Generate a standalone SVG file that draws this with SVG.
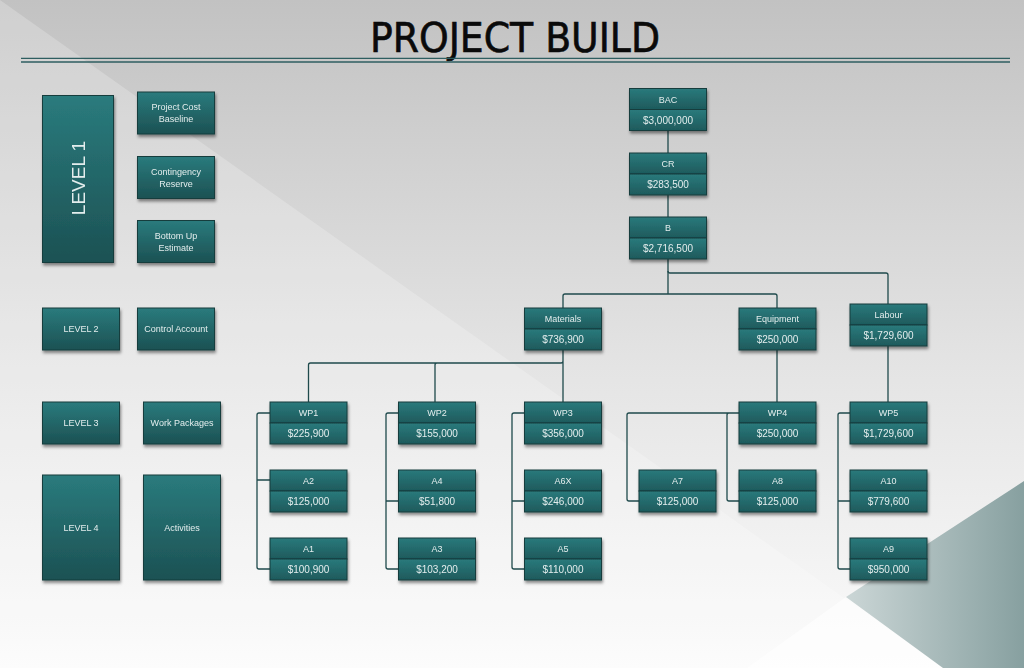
<svg xmlns="http://www.w3.org/2000/svg" width="1024" height="668" viewBox="0 0 1024 668">
<defs>
<linearGradient id="bg" x1="0" y1="0" x2="0" y2="1">
<stop offset="0" stop-color="#c2c2c2"/>
<stop offset="0.55" stop-color="#e4e4e4"/>
<stop offset="1" stop-color="#fbfbfb"/>
</linearGradient>
<linearGradient id="tri" x1="0" y1="0" x2="1" y2="0">
<stop offset="0" stop-color="#cbd6d6"/>
<stop offset="1" stop-color="#87a0a0"/>
</linearGradient>
<linearGradient id="half" x1="0" y1="0" x2="0" y2="1">
<stop offset="0" stop-color="#2a7a7c"/>
<stop offset="1" stop-color="#1e5a5c"/>
</linearGradient>
<linearGradient id="tall" x1="0" y1="0" x2="0" y2="1">
<stop offset="0" stop-color="#2a7b7d"/>
<stop offset="1" stop-color="#1c5153"/>
</linearGradient>
<filter id="sh" x="-10%" y="-10%" width="130%" height="140%">
<feDropShadow dx="1" dy="2.5" stdDeviation="1.6" flood-color="#000" flood-opacity="0.45"/>
</filter>
</defs>
<style>
.box{fill:url(#half);stroke:#163c3d;stroke-width:1}
.tbox{fill:url(#tall);stroke:#163c3d;stroke-width:1}
.t{font-family:"Liberation Sans",Arial,sans-serif;font-size:9px;fill:#e3eded;text-anchor:middle}
.v{font-family:"Liberation Sans",Arial,sans-serif;font-size:10px;fill:#e3eded;text-anchor:middle}
.big{font-family:"Liberation Sans",Arial,sans-serif;font-size:19px;fill:#e3eded;text-anchor:middle}
.c{fill:none;stroke:#1f4a4c;stroke-width:1.3;stroke-linejoin:round}
.sh{filter:url(#sh)}
</style>
<rect x="0" y="0" width="1024" height="668" fill="url(#bg)"/>
<polygon points="0,0 943,668 0,668" fill="#ffffff" opacity="0.22"/>
<polygon points="747,668 846,597 943,668" fill="#ffffff" opacity="0.6"/>
<polygon points="1024,481 846,597 943,668 1024,668" fill="url(#tri)"/>
<text x="515" y="52" font-family="DejaVu Sans Condensed, DejaVu Sans, sans-serif" font-stretch="condensed" font-size="41" fill="#0a0a0a" stroke="#0a0a0a" stroke-width="0.6" text-anchor="middle" textLength="290" lengthAdjust="spacingAndGlyphs">PROJECT BUILD</text>
<line x1="21" y1="58.3" x2="1010" y2="58.3" stroke="#2e5e60" stroke-width="1.3"/>
<line x1="21" y1="62" x2="1010" y2="62" stroke="#2e5e60" stroke-width="1.3"/>

<g id="connectors">
<path class="c" d="M668,131 V153"/>
<path class="c" d="M668,195 V217"/>
<path class="c" d="M668,259 V294 M565,294 H775 Q777,294 777,296 V308 M565,294 Q563,294 563,296 V308"/>
<path class="c" d="M668,271 Q668,273 670,273 H886 Q888,273 888,275 V304"/>
<path class="c" d="M563,350 V402 M563,361 Q563,363 561,363 H310.5 Q308.5,363 308.5,365 V402 M437,363 Q435,363 435,365 V402"/>
<path class="c" d="M777,350 V402"/>
<path class="c" d="M888,346 V402"/>
<path class="c" d="M270,413 H259 Q257,413 257,415 V567 Q257,569 259,569 H270 M257,480 H270"/>
<path class="c" d="M398.5,413 H388 Q386,413 386,415 V567 Q386,569 388,569 H398.5 M386,501 H398.5"/>
<path class="c" d="M524.5,413 H514 Q512,413 512,415 V567 Q512,569 514,569 H524.5 M512,501 H524.5"/>
<path class="c" d="M739,413 H629 Q627,413 627,415 V499 Q627,501 629,501 H639 M729,413 Q727,413 727,415 V499 Q727,501 729,501 H739"/>
<path class="c" d="M850,413 H840 Q838,413 838,415 V567 Q838,569 840,569 H850 M838,501 H850"/>
</g>

<g id="level1" class="sh"><rect class="tbox" x="42.5" y="95.5" width="71" height="167"/><text class="big" transform="translate(85,178) rotate(-90)">LEVEL 1</text></g>
<g id="pcb" class="sh"><rect class="tbox" x="137.5" y="92" width="77" height="42"/><text class="t" x="176" y="110">Project Cost</text><text class="t" x="176" y="122">Baseline</text></g>
<g id="cres" class="sh"><rect class="tbox" x="137.5" y="156.5" width="77" height="42"/><text class="t" x="176" y="174.5">Contingency</text><text class="t" x="176" y="186.5">Reserve</text></g>
<g id="bue" class="sh"><rect class="tbox" x="137.5" y="220.5" width="77" height="42"/><text class="t" x="176" y="239">Bottom Up</text><text class="t" x="176" y="251">Estimate</text></g>
<g id="level2" class="sh"><rect class="tbox" x="42.5" y="308" width="77" height="42"/><text class="t" x="81" y="332">LEVEL 2</text></g>
<g id="ca" class="sh"><rect class="tbox" x="137.5" y="308" width="77" height="42"/><text class="t" x="176" y="332">Control Account</text></g>
<g id="level3" class="sh"><rect class="tbox" x="42.5" y="402" width="77" height="42"/><text class="t" x="81" y="426">LEVEL 3</text></g>
<g id="wpk" class="sh"><rect class="tbox" x="143.5" y="402" width="77" height="42"/><text class="t" x="182" y="426">Work Packages</text></g>
<g id="level4" class="sh"><rect class="tbox" x="42.5" y="475" width="77" height="105"/><text class="t" x="81" y="530.5">LEVEL 4</text></g>
<g id="act" class="sh"><rect class="tbox" x="143.5" y="475" width="77" height="105"/><text class="t" x="182" y="530.5">Activities</text></g>

<g id="BAC" class="sh"><rect class="box" x="629.5" y="88.5" width="77" height="21"/><rect class="box" x="629.5" y="109.5" width="77" height="21"/><text class="t" x="668" y="102.5">BAC</text><text class="v" x="668" y="123.5">$3,000,000</text></g>
<g id="CR" class="sh"><rect class="box" x="629.5" y="153" width="77" height="21"/><rect class="box" x="629.5" y="174" width="77" height="21"/><text class="t" x="668" y="167">CR</text><text class="v" x="668" y="188">$283,500</text></g>
<g id="B" class="sh"><rect class="box" x="629.5" y="217" width="77" height="21"/><rect class="box" x="629.5" y="238" width="77" height="21"/><text class="t" x="668" y="231">B</text><text class="v" x="668" y="252">$2,716,500</text></g>

<g id="Materials" class="sh"><rect class="box" x="524.5" y="308" width="77" height="21"/><rect class="box" x="524.5" y="329" width="77" height="21"/><text class="t" x="563" y="322">Materials</text><text class="v" x="563" y="343">$736,900</text></g>
<g id="Equipment" class="sh"><rect class="box" x="739" y="308" width="77" height="21"/><rect class="box" x="739" y="329" width="77" height="21"/><text class="t" x="777.5" y="322">Equipment</text><text class="v" x="777.5" y="343">$250,000</text></g>
<g id="Labour" class="sh"><rect class="box" x="850" y="304" width="77" height="21"/><rect class="box" x="850" y="325" width="77" height="21"/><text class="t" x="888.5" y="318">Labour</text><text class="v" x="888.5" y="339">$1,729,600</text></g>

<g id="WP1" class="sh"><rect class="box" x="270" y="402" width="77" height="21"/><rect class="box" x="270" y="423" width="77" height="21"/><text class="t" x="308.5" y="416">WP1</text><text class="v" x="308.5" y="437">$225,900</text></g>
<g id="WP2" class="sh"><rect class="box" x="398.5" y="402" width="77" height="21"/><rect class="box" x="398.5" y="423" width="77" height="21"/><text class="t" x="437" y="416">WP2</text><text class="v" x="437" y="437">$155,000</text></g>
<g id="WP3" class="sh"><rect class="box" x="524.5" y="402" width="77" height="21"/><rect class="box" x="524.5" y="423" width="77" height="21"/><text class="t" x="563" y="416">WP3</text><text class="v" x="563" y="437">$356,000</text></g>
<g id="WP4" class="sh"><rect class="box" x="739" y="402" width="77" height="21"/><rect class="box" x="739" y="423" width="77" height="21"/><text class="t" x="777.5" y="416">WP4</text><text class="v" x="777.5" y="437">$250,000</text></g>
<g id="WP5" class="sh"><rect class="box" x="850" y="402" width="77" height="21"/><rect class="box" x="850" y="423" width="77" height="21"/><text class="t" x="888.5" y="416">WP5</text><text class="v" x="888.5" y="437">$1,729,600</text></g>

<g id="A2" class="sh"><rect class="box" x="270" y="470" width="77" height="21"/><rect class="box" x="270" y="491" width="77" height="21"/><text class="t" x="308.5" y="484">A2</text><text class="v" x="308.5" y="505">$125,000</text></g>
<g id="A1" class="sh"><rect class="box" x="270" y="538" width="77" height="21"/><rect class="box" x="270" y="559" width="77" height="21"/><text class="t" x="308.5" y="552">A1</text><text class="v" x="308.5" y="573">$100,900</text></g>
<g id="A4" class="sh"><rect class="box" x="398.5" y="470" width="77" height="21"/><rect class="box" x="398.5" y="491" width="77" height="21"/><text class="t" x="437" y="484">A4</text><text class="v" x="437" y="505">$51,800</text></g>
<g id="A3" class="sh"><rect class="box" x="398.5" y="538" width="77" height="21"/><rect class="box" x="398.5" y="559" width="77" height="21"/><text class="t" x="437" y="552">A3</text><text class="v" x="437" y="573">$103,200</text></g>
<g id="A6X" class="sh"><rect class="box" x="524.5" y="470" width="77" height="21"/><rect class="box" x="524.5" y="491" width="77" height="21"/><text class="t" x="563" y="484">A6X</text><text class="v" x="563" y="505">$246,000</text></g>
<g id="A5" class="sh"><rect class="box" x="524.5" y="538" width="77" height="21"/><rect class="box" x="524.5" y="559" width="77" height="21"/><text class="t" x="563" y="552">A5</text><text class="v" x="563" y="573">$110,000</text></g>
<g id="A7" class="sh"><rect class="box" x="639" y="470" width="77" height="21"/><rect class="box" x="639" y="491" width="77" height="21"/><text class="t" x="677.5" y="484">A7</text><text class="v" x="677.5" y="505">$125,000</text></g>
<g id="A8" class="sh"><rect class="box" x="739" y="470" width="77" height="21"/><rect class="box" x="739" y="491" width="77" height="21"/><text class="t" x="777.5" y="484">A8</text><text class="v" x="777.5" y="505">$125,000</text></g>
<g id="A10" class="sh"><rect class="box" x="850" y="470" width="77" height="21"/><rect class="box" x="850" y="491" width="77" height="21"/><text class="t" x="888.5" y="484">A10</text><text class="v" x="888.5" y="505">$779,600</text></g>
<g id="A9" class="sh"><rect class="box" x="850" y="538" width="77" height="21"/><rect class="box" x="850" y="559" width="77" height="21"/><text class="t" x="888.5" y="552">A9</text><text class="v" x="888.5" y="573">$950,000</text></g>
</svg>
